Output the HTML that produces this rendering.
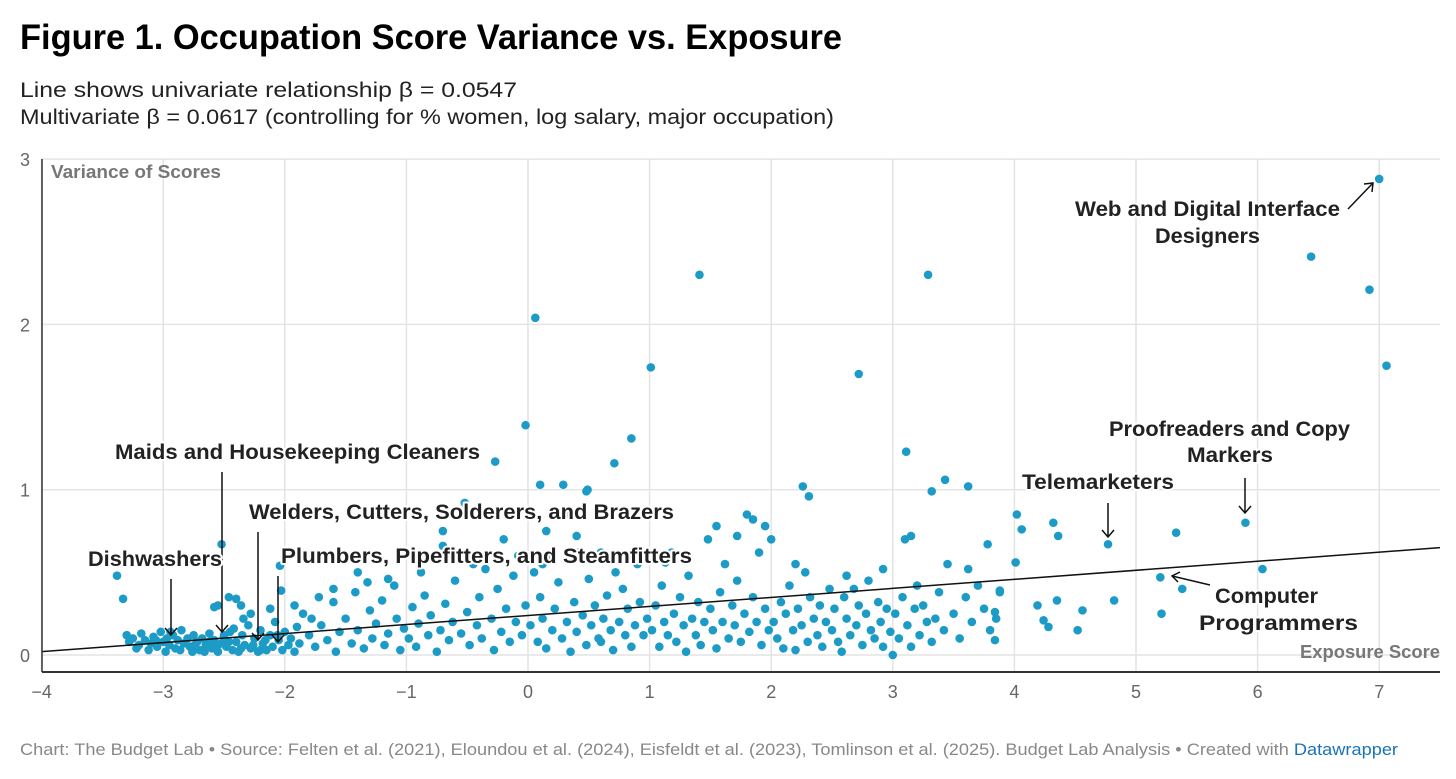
<!DOCTYPE html>
<html><head><meta charset="utf-8"><style>
body{margin:0;background:#fff;font-family:"Liberation Sans",sans-serif}
svg text{font-family:"Liberation Sans",sans-serif}
.ann{font-weight:bold;font-size:21px;fill:#222;paint-order:stroke;stroke:#fff;stroke-width:4px;stroke-linejoin:round}
</style></head><body>
<svg id="chart" width="1456" height="774" viewBox="0 0 1456 774" xmlns="http://www.w3.org/2000/svg">
<text x="20" y="49" font-size="35" font-weight="bold" fill="#000" textLength="822" lengthAdjust="spacingAndGlyphs">Figure 1. Occupation Score Variance vs. Exposure</text>
<text x="20" y="97" font-size="21" fill="#222" textLength="497" lengthAdjust="spacingAndGlyphs">Line shows univariate relationship β = 0.0547</text>
<text x="20" y="124" font-size="21" fill="#222" textLength="814" lengthAdjust="spacingAndGlyphs">Multivariate β = 0.0617 (controlling for % women, log salary, major occupation)</text>
<g id="grid"></g>
<g id="dots"></g>
<g id="fit"></g>
<g id="axes"></g>
<text x="51" y="178" font-size="18" font-weight="bold" fill="#777" textLength="170" lengthAdjust="spacingAndGlyphs">Variance of Scores</text>
<text x="1300" y="658" font-size="18" font-weight="bold" fill="#777" textLength="140" lengthAdjust="spacingAndGlyphs">Exposure Score</text>
<g stroke="#111" stroke-width="1.5" fill="none">
<path d="M1348,209 L1373,183 M1364,184 L1373,183 L1372,192"/>
<path d="M1245,478 L1245,513 M1239,506 L1245,513 L1251,506"/>
<path d="M1108,503 L1108,537 M1102,530 L1108,537 L1114,530"/>
<path d="M1210,585 L1172,576 M1180,572 L1172,576 L1178,582"/>
<path d="M222,472 L222,632 M216,625 L222,632 L228,625"/>
<path d="M258,532 L258,640 M252,633 L258,640 L264,633"/>
<path d="M278,576 L278,642 M272,635 L278,642 L284,635"/>
<path d="M171,579 L171,635 M165,628 L171,635 L177,628"/>
</g>
<text class="ann" x="1075" y="216" textLength="265" lengthAdjust="spacingAndGlyphs">Web and Digital Interface</text>
<text class="ann" x="1155" y="243" textLength="105" lengthAdjust="spacingAndGlyphs">Designers</text>
<text class="ann" x="1109" y="436" textLength="241" lengthAdjust="spacingAndGlyphs">Proofreaders and Copy</text>
<text class="ann" x="1187" y="462" textLength="86" lengthAdjust="spacingAndGlyphs">Markers</text>
<text class="ann" x="1022" y="489" textLength="152" lengthAdjust="spacingAndGlyphs">Telemarketers</text>
<text class="ann" x="1215" y="603" textLength="103" lengthAdjust="spacingAndGlyphs">Computer</text>
<text class="ann" x="1199" y="630" textLength="159" lengthAdjust="spacingAndGlyphs">Programmers</text>
<text class="ann" x="115" y="459" textLength="365" lengthAdjust="spacingAndGlyphs">Maids and Housekeeping Cleaners</text>
<text class="ann" x="249" y="519" textLength="425" lengthAdjust="spacingAndGlyphs">Welders, Cutters, Solderers, and Brazers</text>
<text class="ann" x="281" y="563" textLength="411" lengthAdjust="spacingAndGlyphs">Plumbers, Pipefitters, and Steamfitters</text>
<text class="ann" x="88" y="566" textLength="134" lengthAdjust="spacingAndGlyphs">Dishwashers</text>
<text x="20" y="755" font-size="17" fill="#888" textLength="1378" lengthAdjust="spacingAndGlyphs">Chart: The Budget Lab • Source: Felten et al. (2021), Eloundou et al. (2024), Eisfeldt et al. (2023), Tomlinson et al. (2025). Budget Lab Analysis • Created with <tspan fill="#1a73b5">Datawrapper</tspan></text>
</svg>
<script>
const xTicks=[-4,-3,-2,-1,0,1,2,3,4,5,6,7];
const yTicks=[0,1,2,3];
const fitIntercept=0.239, fitSlope=0.0547;
const outliers=[[7.0,2.88],[6.44,2.41],[6.92,2.21],[7.06,1.75],[1.41,2.30],[3.29,2.30],[0.06,2.04],[1.01,1.74],[2.72,1.70],[-0.02,1.39],[0.85,1.31],[3.11,1.23],[-0.27,1.17],[0.71,1.16],[3.43,1.06],[3.62,1.02],[3.32,0.99],[2.26,1.02],[2.31,0.96],[0.1,1.03],[0.29,1.03],[0.48,0.99],[0.49,1.0],[5.9,0.80],[4.77,0.67],[5.33,0.74],[6.04,0.52],[5.2,0.47],[5.38,0.40],[5.21,0.25],[4.02,0.85],[4.06,0.76],[4.32,0.80],[4.36,0.72],[4.82,0.33],[4.56,0.27],[4.52,0.15],[4.35,0.33],[4.28,0.17],[4.19,0.30],[4.24,0.21],[4.01,0.56],[3.78,0.67],[3.88,0.39],[3.84,0.26],[3.84,0.09],[-3.38,0.48],[-3.33,0.34],[-2.52,0.67],[-2.04,0.54],[-2.03,0.39],[-2.12,0.28],[-2.58,0.29]];
const leftBlob=[[-3.3,0.12],[-3.28,0.08],[-3.25,0.1],[-3.2,0.06],[-3.18,0.13],[-3.15,0.09],[-3.1,0.07],[-3.08,0.11],[-3.05,0.05],[-3.02,0.14],[-3.0,0.08],[-2.97,0.1],[-2.95,0.06],[-2.92,0.12],[-2.9,0.04],[-2.88,0.09],[-2.85,0.15],[-2.83,0.07],[-2.8,0.1],[-2.78,0.05],[-2.75,0.12],[-2.72,0.08],[-2.7,0.03],[-2.68,0.1],[-2.65,0.06],[-2.62,0.13],[-2.6,0.04],[-2.58,0.09],[-2.55,0.02],[-2.52,0.07],[-2.5,0.11],[-2.48,0.05],[-2.45,0.14],[-2.43,0.03],[-2.4,0.08],[-2.38,0.02],[-2.35,0.12],[-2.33,0.06],[-2.3,0.18],[-2.28,0.04],[-2.25,0.1],[-2.22,0.02],[-2.2,0.15],[-2.18,0.07],[-2.15,0.03],[-2.12,0.12],[-2.1,0.05],[-2.08,0.2],[-2.05,0.09],[-2.02,0.03],[-2.0,0.14],[-1.97,0.06],[-1.95,0.1],[-1.92,0.02],[-1.9,0.17],[-1.88,0.07],[-3.22,0.04],[-3.12,0.03],[-2.98,0.02],[-2.86,0.03],[-2.76,0.02],[-2.66,0.02],[-2.56,0.05],[-2.46,0.08],[-2.36,0.04],[-2.26,0.06],[-2.16,0.09],[-2.06,0.12],[-2.62,0.08],[-2.74,0.06],[-3.06,0.09],[-2.94,0.14],[-2.42,0.16],[-2.34,0.22],[-2.28,0.25],[-2.4,0.34],[-2.46,0.35],[-2.36,0.3],[-2.55,0.3],[-2.5,0.12],[-2.2,0.03]];
const midBand=[[-1.85,0.25],[-1.8,0.12],[-1.75,0.05],[-1.7,0.18],[-1.65,0.09],[-1.6,0.32],[-1.58,0.02],[-1.55,0.14],[-1.5,0.22],[-1.45,0.07],[-1.42,0.38],[-1.4,0.15],[-1.35,0.04],[-1.3,0.27],[-1.28,0.1],[-1.25,0.19],[-1.2,0.33],[-1.18,0.06],[-1.15,0.13],[-1.1,0.42],[-1.08,0.22],[-1.05,0.03],[-1.02,0.16],[-1.6,0.4],[-1.72,0.35],[-1.4,0.5],[-1.15,0.46],[-1.32,0.44],[-1.78,0.22],[-1.92,0.3],
[-0.98,0.1],[-0.95,0.29],[-0.92,0.05],[-0.9,0.19],[-0.85,0.36],[-0.82,0.12],[-0.8,0.24],[-0.78,0.6],[-0.75,0.02],[-0.72,0.15],[-0.7,0.66],[-0.68,0.31],[-0.65,0.09],[-0.62,0.2],[-0.6,0.45],[-0.55,0.13],[-0.52,0.92],[-0.5,0.26],[-0.48,0.06],[-0.45,0.55],[-0.42,0.18],[-0.4,0.35],[-0.38,0.1],[-0.35,0.52],[-0.3,0.22],[-0.28,0.03],[-0.25,0.4],[-0.22,0.14],[-0.2,0.7],[-0.18,0.28],[-0.15,0.08],[-0.12,0.48],[-0.1,0.2],[-0.08,0.6],[-0.05,0.12],[-0.02,0.3],[-0.88,0.5],[-0.58,0.58],[-0.3,0.85],[-0.7,0.75],
[0.02,0.18],[0.05,0.5],[0.08,0.08],[0.1,0.35],[0.12,0.22],[0.15,0.04],[0.18,0.6],[0.2,0.15],[0.22,0.28],[0.25,0.44],[0.28,0.1],[0.3,0.85],[0.32,0.2],[0.35,0.02],[0.38,0.32],[0.4,0.14],[0.42,0.62],[0.45,0.24],[0.48,0.06],[0.5,0.46],[0.52,0.18],[0.55,0.3],[0.58,0.1],[0.6,0.08],[0.62,0.22],[0.65,0.36],[0.68,0.15],[0.7,0.03],[0.72,0.5],[0.75,0.2],[0.78,0.4],[0.8,0.12],[0.82,0.28],[0.85,0.05],[0.88,0.18],[0.9,0.55],[0.92,0.32],[0.95,0.12],[0.98,0.22],[0.15,0.75],[0.4,0.72],[0.12,0.55],[0.6,0.62],
[1.02,0.15],[1.05,0.3],[1.08,0.05],[1.1,0.42],[1.12,0.2],[1.15,0.12],[1.18,0.62],[1.2,0.25],[1.22,0.08],[1.25,0.35],[1.28,0.18],[1.3,0.02],[1.32,0.48],[1.35,0.22],[1.38,0.12],[1.4,0.32],[1.42,0.06],[1.45,0.2],[1.48,0.7],[1.5,0.28],[1.52,0.15],[1.55,0.04],[1.58,0.38],[1.6,0.2],[1.62,0.55],[1.65,0.1],[1.68,0.3],[1.7,0.18],[1.72,0.45],[1.75,0.08],[1.78,0.25],[1.8,0.85],[1.82,0.14],[1.85,0.35],[1.88,0.2],[1.9,0.62],[1.92,0.06],[1.95,0.28],[1.98,0.15],[1.55,0.78],[1.72,0.72],[1.85,0.82],[1.95,0.78],[1.13,0.56],
[2.02,0.2],[2.05,0.1],[2.08,0.32],[2.1,0.04],[2.12,0.25],[2.15,0.42],[2.18,0.15],[2.2,0.03],[2.22,0.28],[2.25,0.18],[2.28,0.5],[2.3,0.08],[2.32,0.35],[2.35,0.22],[2.38,0.12],[2.4,0.3],[2.42,0.05],[2.45,0.2],[2.48,0.4],[2.5,0.15],[2.52,0.28],[2.55,0.08],[2.58,0.02],[2.6,0.35],[2.62,0.22],[2.65,0.12],[2.68,0.4],[2.7,0.18],[2.72,0.3],[2.75,0.06],[2.78,0.25],[2.8,0.45],[2.82,0.15],[2.85,0.1],[2.88,0.32],[2.9,0.2],[2.92,0.05],[2.95,0.28],[2.98,0.14],[2.0,0.7],[2.2,0.55],[2.62,0.48],[2.92,0.52],
[3.02,0.25],[3.05,0.1],[3.08,0.35],[3.1,0.7],[3.12,0.18],[3.15,0.05],[3.18,0.28],[3.2,0.42],[3.22,0.12],[3.25,0.3],[3.28,0.2],[3.32,0.08],[3.35,0.22],[3.38,0.38],[3.42,0.15],[3.45,0.55],[3.5,0.25],[3.55,0.1],[3.6,0.35],[3.62,0.52],[3.65,0.2],[3.7,0.42],[3.75,0.28],[3.8,0.15],[3.85,0.22],[3.88,0.38],[3.15,0.72],[3.0,0.0]];

const NS='http://www.w3.org/2000/svg';
const X0=42,X1=1440,Y0=672,YT=159;
function sx(v){return 528+v*121.6;}
function sy(v){return 655-v*165.3;}
function mk(tag,attrs,parent){const e=document.createElementNS(NS,tag);for(const k in attrs)e.setAttribute(k,attrs[k]);parent.appendChild(e);return e;}
const grid=document.getElementById('grid'),axes=document.getElementById('axes'),dots=document.getElementById('dots'),fit=document.getElementById('fit');
xTicks.forEach(t=>{
  const l=mk('line',{x1:sx(t),x2:sx(t),y1:YT,y2:Y0,stroke:'#e4e4e4','stroke-width':1.5},grid);
  
  
  const tx=mk('text',{x:sx(t),y:698,'font-size':18,fill:'#666','text-anchor':'middle'},axes);
  tx.textContent=(t<0?'−'+Math.abs(t):t);
  
  
});
yTicks.forEach(t=>{
  const l=mk('line',{x1:X0,x2:X1,y1:sy(t),y2:sy(t),stroke:'#e4e4e4','stroke-width':1.5},grid);
  
  
  const tx=mk('text',{x:30,y:sy(t)+7,'font-size':18,fill:'#666','text-anchor':'end'},axes);
  tx.textContent=t;
  
  
});
const ax=mk('line',{x1:X0,x2:X1,y1:Y0,y2:Y0,stroke:'#333','stroke-width':2},axes);


const ay=mk('line',{x1:X0,x2:X0,y1:YT,y2:Y0,stroke:'#333','stroke-width':1.5},axes);


[leftBlob,midBand,outliers].forEach(arr=>arr.forEach(p=>{
  const c=mk('circle',{cx:sx(p[0]),cy:sy(p[1]),r:4.3,fill:'#1d9bc7'},dots);
  
  
}));
const fl=mk('line',{x1:sx(-4),y1:sy(fitIntercept+fitSlope*-4),x2:sx(7.5),y2:sy(fitIntercept+fitSlope*7.5),stroke:'#111','stroke-width':1.5},fit);


</script>
</body></html>
